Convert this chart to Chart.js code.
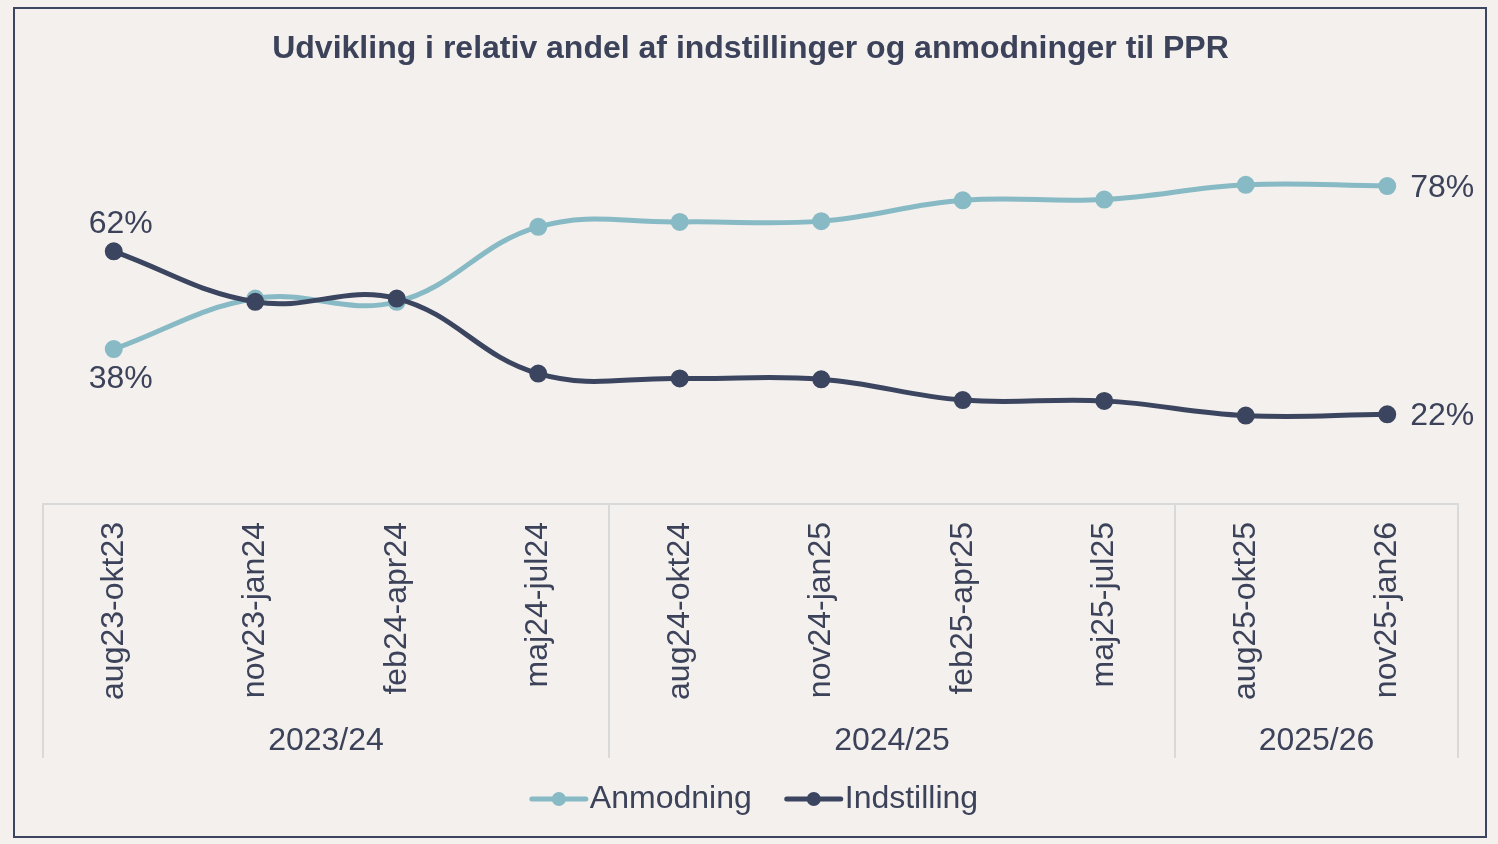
<!DOCTYPE html>
<html>
<head>
<meta charset="utf-8">
<script src="https://cdn.jsdelivr.net/npm/chart.js@4"></script>
<style>
  html, body { margin: 0; padding: 0; background: #F3F0ED; }
  canvas { display: block; }
</style>
</head>
<body>
<canvas id="PPR-Chart" width="1498" height="844"></canvas>
<script>
const categories = ['aug23-okt23', 'nov23-jan24', 'feb24-apr24', 'maj24-jul24', 'aug24-okt24',
  'nov24-jan25', 'feb25-apr25', 'maj25-jul25', 'aug25-okt25', 'nov25-jan26'];
const groups = ['2023/24', '2024/25', '2025/26'];
const groupSizes = [4, 4, 2];
const anmodning = [38, 50.4, 49.6, 68, 69.2, 69.4, 74.5, 74.7, 78.3, 78];
const indstilling = [62, 49.6, 50.4, 32, 30.8, 30.6, 25.5, 25.3, 21.7, 22];

const textColor = '#3B4259';
const lineGrey = '#D9D9D9';
const fontFamily = "'Liberation Sans', Arial, sans-serif";

// background and outer frame
const framePlugin = {
  id: 'frame',
  beforeDraw(chart) {
    const c = chart.ctx;
    c.save();
    c.fillStyle = '#F3F0ED';
    c.fillRect(0, 0, chart.width, chart.height);
    c.strokeStyle = '#3D4560';
    c.lineWidth = 2;
    c.strokeRect(14, 8, 1472, 829);
    c.restore();
  }
};

// percent labels at first and last point
const endLabels = {
  id: 'endLabels',
  afterDatasetsDraw(chart) {
    const c = chart.ctx;
    c.save();
    c.font = '32px ' + fontFamily;
    c.fillStyle = textColor;
    chart.data.datasets.forEach((ds, i) => {
      const pts = chart.getDatasetMeta(i).data;
      const first = pts[0], last = pts[pts.length - 1];
      c.textAlign = 'center';
      c.textBaseline = 'middle';
      const dy = ds.firstLabel === 'above' ? -27 : 30;
      c.fillText(Math.round(ds.data[0]) + '%', first.x + 7, first.y + dy);
      c.textAlign = 'left';
      c.fillText(Math.round(ds.data[ds.data.length - 1]) + '%', last.x + 23, last.y + 2);
    });
    c.restore();
  }
};

// second category level (school years) + separators + legend
const groupAxis = {
  id: 'groupAxis',
  afterDraw(chart) {
    const c = chart.ctx;
    const x = chart.scales.x;
    const area = chart.chartArea;
    const step = x.getPixelForValue(1) - x.getPixelForValue(0);
    c.save();
    c.strokeStyle = lineGrey;
    c.lineWidth = 2;
    let idx = 0;
    const edges = [x.getPixelForValue(0) - step / 2];
    groupSizes.forEach(n => {
      idx += n;
      edges.push(x.getPixelForValue(idx - 1) + step / 2);
    });
    edges.forEach(px => {
      c.beginPath();
      c.moveTo(px, area.bottom);
      c.lineTo(px, area.bottom + 254);
      c.stroke();
    });
    c.font = '32px ' + fontFamily;
    c.fillStyle = textColor;
    c.textAlign = 'center';
    c.textBaseline = 'middle';
    groups.forEach((g, i) => {
      c.fillText(g, (edges[i] + edges[i + 1]) / 2, area.bottom + 237);
    });

    // legend: line with dot
    const items = chart.data.datasets.map(ds => ({
      label: ds.label, color: ds.borderColor, w: c.measureText(ds.label).width
    }));
    const lineW = 54, gap = 4, itemGap = 35;
    const total = items.reduce((s, it) => s + lineW + gap + it.w, 0) + itemGap * (items.length - 1);
    let lx = chart.width / 2 - total / 2 + 6;
    const ly = 799;
    c.textAlign = 'left';
    items.forEach(it => {
      c.strokeStyle = it.color;
      c.lineWidth = 5;
      c.lineCap = 'round';
      c.beginPath();
      c.moveTo(lx, ly);
      c.lineTo(lx + lineW, ly);
      c.stroke();
      c.fillStyle = it.color;
      c.beginPath();
      c.arc(lx + lineW / 2, ly, 7, 0, Math.PI * 2);
      c.fill();
      c.fillStyle = textColor;
      c.fillText(it.label, lx + lineW + gap, ly);
      lx += lineW + gap + it.w + itemGap;
    });
    c.restore();
  }
};

const ctx = document.getElementById('PPR-Chart').getContext('2d');
const PPRChart = new Chart(ctx, {
  type: 'line',
  data: {
    labels: categories,
    datasets: [{
      label: 'Anmodning',
      data: anmodning,
      borderColor: '#87BAC4',
      backgroundColor: '#87BAC4',
      borderWidth: 5,
      pointRadius: 6.5,
      pointHoverRadius: 6.5,
      tension: 0.4,
      order: 1,
      firstLabel: 'below'
    }, {
      label: 'Indstilling',
      data: indstilling,
      borderColor: '#3B4560',
      backgroundColor: '#3B4560',
      borderWidth: 5,
      pointRadius: 6.5,
      pointHoverRadius: 6.5,
      tension: 0.4,
      order: 0,
      firstLabel: 'above'
    }]
  },
  options: {
    responsive: false,
    devicePixelRatio: 1,
    animation: false,
    layout: {
      padding: { left: 43, right: 40, top: 0, bottom: 0 }
    },
    scales: {
      y: {
        display: false,
        min: 0,
        max: 100
      },
      x: {
        offset: true,
        grid: {
          display: false,
          drawTicks: false
        },
        border: {
          display: true,
          color: lineGrey,
          width: 2
        },
        ticks: {
          autoSkip: false,
          minRotation: 90,
          maxRotation: 90,
          padding: 18,
          color: textColor,
          font: { family: fontFamily, size: 32 }
        },
        afterFit: function (scale) {
          scale.height = 340;
        }
      }
    },
    plugins: {
      legend: {
        display: false
      },
      tooltip: {
        enabled: false
      },
      title: {
        display: true,
        text: 'Udvikling i relativ andel af indstillinger og anmodninger til PPR',
        color: textColor,
        font: { family: fontFamily, size: 32, weight: 'bold' },
        padding: { top: 30, bottom: 28 }
      }
    }
  },
  plugins: [framePlugin, endLabels, groupAxis]
});
</script>
</body>
</html>
